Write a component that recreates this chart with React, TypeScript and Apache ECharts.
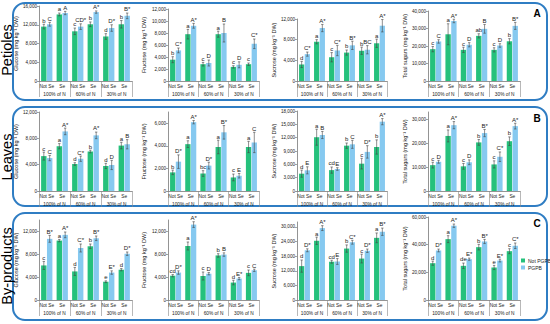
import React, { useEffect, useRef } from 'react';
import * as echarts from 'echarts';

// ---------- categories ----------
const treatments = ['Not Se', 'Se', 'Not Se', 'Se', 'Not Se', 'Se'];
const nLevels = ['100% of N', '60% of N', '30% of N'];
const rowNames = ['Petioles', 'Leaves', 'By-products'];
const rowTags = ['A', 'B', 'C'];
const sugarNames = ['Glucose', 'Fructose', 'Sucrose', 'Total sugars'];
const seriesNames = ['Not PGPB', 'PGPB'];

// ---------- Petioles ----------
const petGluNot = [11600, 14200, 10600, 12100, 9500, 12100];
const petGluPg = [12100, 14500, 11600, 14700, 11300, 13900];
const petGluNotErr = [500, 300, 700, 500, 600, 800];
const petGluPgErr = [400, 350, 600, 250, 700, 600];
const petGluNotLet = ['b', 'a', 'c', 'b', 'd', 'b'];
const petGluPgLet = ['C', 'A', 'CD*', 'A*', 'D*', 'B*'];

const petFruNot = [3550, 7800, 2800, 7800, 2350, 2800];
const petFruPg = [5100, 9200, 3000, 8000, 2700, 6200];
const petFruNotErr = [500, 800, 300, 500, 200, 200];
const petFruPgErr = [400, 400, 500, 1500, 500, 800];
const petFruNotLet = ['b', 'a', 'c', 'a', 'c', 'c'];
const petFruPgLet = ['C*', 'A*', 'D', 'B', 'D', 'C*'];

const petSucNot = [3200, 7600, 4600, 5500, 5850, 7300];
const petSucPg = [5200, 10250, 5900, 6900, 6050, 10700];
const petSucNotErr = [600, 400, 900, 500, 700, 800];
const petSucPgErr = [400, 700, 1000, 800, 800, 1200];
const petSucNotLet = ['d', 'a', 'c', 'b', 'b', 'a'];
const petSucPgLet = ['C*', 'A*', 'C*', 'B*', 'BC', 'A*'];

const petTotNot = [18200, 26700, 17800, 25800, 17800, 22700];
const petTotPg = [22600, 34300, 20700, 29800, 20300, 31500];
const petTotNotErr = [1500, 6000, 1500, 1200, 1200, 1500];
const petTotPgErr = [1000, 1000, 1200, 2500, 1000, 2000];
const petTotNotLet = ['c', 'a', 'c', 'ab', 'c', 'b'];
const petTotPgLet = ['C', 'A*', 'D', 'B', 'D', 'B*'];

// ---------- Leaves ----------
const leaGluNot = [5300, 6800, 4100, 6000, 3800, 6900];
const leaGluPg = [5000, 9050, 4900, 8450, 3950, 7100];
const leaGluNotErr = [600, 400, 200, 200, 400, 500];
const leaGluPgErr = [400, 500, 400, 500, 700, 700];
const leaGluNotLet = ['c', 'a', 'd', 'b', 'd', 'a'];
const leaGluPgLet = ['C', 'A*', 'C*', 'A*', 'D', 'B'];

const leaFruNot = [1650, 4150, 1550, 3900, 1200, 3900];
const leaFruPg = [2600, 6100, 2250, 5200, 1350, 4300];
const leaFruNotErr = [200, 300, 250, 600, 300, 500];
const leaFruPgErr = [600, 150, 300, 600, 200, 900];
const leaFruNotLet = ['b', 'a', 'bc', 'a', 'c', 'a'];
const leaFruPgLet = ['D*', 'A*', 'D*', 'B*', 'E', 'C'];

const leaSucNot = [3900, 12100, 4700, 10200, 6150, 9900];
const leaSucPg = [4650, 12600, 4950, 10500, 8800, 15600];
const leaSucNotErr = [800, 1800, 700, 600, 1200, 1600];
const leaSucPgErr = [800, 800, 300, 900, 1400, 700];
const leaSucNotLet = ['d', 'a', 'cd', 'b', 'c', 'b'];
const leaSucPgLet = ['E', 'B', 'E', 'C', 'D*', 'A*'];

const leaTotNot = [10800, 23000, 10300, 20300, 11100, 20800];
const leaTotPg = [12200, 27500, 12000, 24200, 14300, 27100];
const leaTotNotErr = [1200, 2500, 1200, 1200, 1500, 1800];
const leaTotPgErr = [600, 1500, 1000, 1500, 2000, 1200];
const leaTotNotLet = ['c', 'a', 'c', 'b', 'c', 'b'];
const leaTotPgLet = ['D', 'A*', 'D', 'B*', 'C*', 'A*'];

// ---------- By-products ----------
const bypGluNot = [6050, 10400, 5000, 9400, 3200, 5300];
const bypGluPg = [10700, 11400, 9100, 10800, 4800, 8100];
const bypGluNotErr = [700, 200, 700, 400, 150, 200];
const bypGluPgErr = [600, 500, 700, 400, 300, 300];
const bypGluNotLet = ['c', 'a', 'd', 'b', 'e', 'd'];
const bypGluPgLet = ['B*', 'A*', 'C*', 'B*', 'E*', 'D*'];

const bypFruNot = [4250, 9450, 4200, 7800, 3050, 4750];
const bypFruPg = [4800, 13200, 4600, 7950, 3750, 5200];
const bypFruNotErr = [200, 700, 700, 300, 400, 500];
const bypFruPgErr = [300, 500, 200, 300, 200, 200];
const bypFruNotLet = ['cd', 'a', 'c', 'b', 'd', 'c'];
const bypFruPgLet = ['D*', 'A*', 'D', 'B', 'E*', 'C'];

const bypSucNot = [13900, 24300, 15700, 21100, 17000, 25500];
const bypSucPg = [20400, 29500, 15800, 23700, 20200, 28000];
const bypSucNotErr = [2500, 1500, 600, 1500, 1800, 2000];
const bypSucPgErr = [600, 1000, 1200, 800, 700, 1500];
const bypSucNotLet = ['d', 'a', 'cd', 'b', 'c', 'a'];
const bypSucPgLet = ['D*', 'A*', 'E', 'C*', 'D*', 'B*'];

const bypTotNot = [26600, 44000, 24700, 38200, 23500, 35300];
const bypTotPg = [35800, 53700, 29500, 42300, 28500, 39200];
const bypTotNotErr = [1500, 2500, 2000, 2000, 1500, 1800];
const bypTotPgErr = [1000, 1200, 800, 1500, 1000, 2000];
const bypTotNotLet = ['d', 'a', 'de', 'b', 'e', 'c'];
const bypTotPgLet = ['D*', 'A*', 'E*', 'B*', 'E*', 'C*'];

// ---------- axis scales ----------
const axisMax = [
  [16000, 12000, 12000, 40000],
  [12000, 7000, 18000, 33000],
  [14000, 14000, 32000, 60000],
];
const axisStep = [
  [4000, 2000, 4000, 10000],
  [4000, 2000, 3000, 10000],
  [4000, 4000, 6000, 20000],
];

// ---------- layout ----------
const colLeft = [39, 168, 297, 428];
const colRight = [132, 259, 387, 520];
const rowBottom = [81, 191, 300];
const panelTop = [
  [6, 9, 19, 11],
  [112, 112, 111, 112],
  [220, 220, 222, 217],
];
const nameGaps = [19, 21, 18, 14];

const GREEN = '#25C17C';
const BLUE = '#86C9F0';
const FRAME = '#2F7DC3';
const FONT = 'Liberation Sans, Arial, sans-serif';
const BAR_FRAC = 0.35;
const BAR_GAP = 0.08;

type Panel = {
  not: number[]; pg: number[];
  notErr: number[]; pgErr: number[];
  notLet: string[]; pgLet: string[];
};

const panelData: Panel[][] = [
  [
    { not: petGluNot, pg: petGluPg, notErr: petGluNotErr, pgErr: petGluPgErr, notLet: petGluNotLet, pgLet: petGluPgLet },
    { not: petFruNot, pg: petFruPg, notErr: petFruNotErr, pgErr: petFruPgErr, notLet: petFruNotLet, pgLet: petFruPgLet },
    { not: petSucNot, pg: petSucPg, notErr: petSucNotErr, pgErr: petSucPgErr, notLet: petSucNotLet, pgLet: petSucPgLet },
    { not: petTotNot, pg: petTotPg, notErr: petTotNotErr, pgErr: petTotPgErr, notLet: petTotNotLet, pgLet: petTotPgLet },
  ],
  [
    { not: leaGluNot, pg: leaGluPg, notErr: leaGluNotErr, pgErr: leaGluPgErr, notLet: leaGluNotLet, pgLet: leaGluPgLet },
    { not: leaFruNot, pg: leaFruPg, notErr: leaFruNotErr, pgErr: leaFruPgErr, notLet: leaFruNotLet, pgLet: leaFruPgLet },
    { not: leaSucNot, pg: leaSucPg, notErr: leaSucNotErr, pgErr: leaSucPgErr, notLet: leaSucNotLet, pgLet: leaSucPgLet },
    { not: leaTotNot, pg: leaTotPg, notErr: leaTotNotErr, pgErr: leaTotPgErr, notLet: leaTotNotLet, pgLet: leaTotPgLet },
  ],
  [
    { not: bypGluNot, pg: bypGluPg, notErr: bypGluNotErr, pgErr: bypGluPgErr, notLet: bypGluNotLet, pgLet: bypGluPgLet },
    { not: bypFruNot, pg: bypFruPg, notErr: bypFruNotErr, pgErr: bypFruPgErr, notLet: bypFruNotLet, pgLet: bypFruPgLet },
    { not: bypSucNot, pg: bypSucPg, notErr: bypSucNotErr, pgErr: bypSucPgErr, notLet: bypSucNotLet, pgLet: bypSucPgLet },
    { not: bypTotNot, pg: bypTotPg, notErr: bypTotNotErr, pgErr: bypTotPgErr, notLet: bypTotNotLet, pgLet: bypTotPgLet },
  ],
];

function buildOption() {
  const grid: any[] = [];
  const xAxis: any[] = [];
  const yAxis: any[] = [];
  const series: any[] = [];

  for (let r = 0; r < 3; r++) {
    for (let c = 0; c < 4; c++) {
      const p = r * 4 + c;
      const d = panelData[r][c];
      const max = axisMax[r][c];
      const step = axisStep[r][c];
      const tickVals: number[] = [];
      for (let v = 0; v <= max; v += step) tickVals.push(v);
      const top = panelTop[r][c];
      grid.push({
        left: colLeft[c],
        top,
        width: colRight[c] - colLeft[c],
        height: rowBottom[r] - top,
        containLabel: false,
        outerBoundsMode: 'none',
      });
      xAxis.push({
        type: 'category',
        gridIndex: p,
        data: treatments,
        position: 'bottom',
        axisLine: { show: true, lineStyle: { color: '#666', width: 0.7 } },
        axisTick: { show: false },
        axisLabel: { interval: 0, fontSize: 4.8, margin: 3, color: '#222', fontFamily: FONT },
      });
      xAxis.push({
        type: 'category',
        gridIndex: p,
        data: nLevels,
        position: 'bottom',
        axisLine: { show: false },
        axisTick: { show: true, length: 16, lineStyle: { color: '#888', width: 0.6 } },
        axisLabel: { interval: 0, fontSize: 4.8, margin: 10.5, color: '#222', fontFamily: FONT },
      });
      yAxis.push({
        type: 'value',
        gridIndex: p,
        min: 0,
        max,
        interval: step,
        name: sugarNames[c] + ' (mg kg\u207B\u00B9 DW)',
        nameLocation: 'middle',
        nameGap: nameGaps[c],
        nameTextStyle: { fontSize: 5.5, color: '#222', fontFamily: FONT },
        axisLine: { show: true, lineStyle: { color: '#666', width: 0.7 } },
        axisTick: { show: true, length: 2, customValues: tickVals, lineStyle: { color: '#666', width: 0.6 } },
        axisLabel: {
          fontSize: 4.6,
          margin: 2,
          color: '#222',
          fontFamily: FONT,
          customValues: tickVals,
          formatter: (v: number) => (v % step === 0 ? v.toLocaleString('en-US') : ''),
        },
        splitLine: { show: false },
      });
      series.push({
        type: 'bar',
        name: seriesNames[0],
        xAxisIndex: p * 2,
        yAxisIndex: p,
        data: d.not,
        barWidth: BAR_FRAC * 100 + '%',
        barGap: BAR_GAP * 100 + '%',
        itemStyle: { color: GREEN },
      });
      series.push({
        type: 'bar',
        name: seriesNames[1],
        xAxisIndex: p * 2,
        yAxisIndex: p,
        data: d.pg,
        barWidth: BAR_FRAC * 100 + '%',
        barGap: BAR_GAP * 100 + '%',
        itemStyle: { color: BLUE },
      });
      series.push({
        type: 'custom',
        xAxisIndex: p * 2,
        yAxisIndex: p,
        clip: false,
        z: 10,
        silent: true,
        encode: { x: 0, y: 1 },
        data: treatments.map((_, i) => [i, 0]),
        renderItem: (params: any, api: any) => {
          const i = params.dataIndex;
          const band = api.size([1, 0])[0];
          const barW = band * BAR_FRAC;
          const off = (barW * (1 + BAR_GAP)) / 2;
          const children: any[] = [];
          const sets: [number[], number[], string[], number][] = [
            [d.not, d.notErr, d.notLet, -1],
            [d.pg, d.pgErr, d.pgLet, 1],
          ];
          sets.forEach(([vals, errs, lets, s]) => {
            const base = api.coord([i, vals[i]]);
            const x = base[0] + s * off;
            const yt = api.coord([i, vals[i] + errs[i]])[1];
            const yb = api.coord([i, vals[i] - errs[i]])[1];
            const st = { stroke: '#444', lineWidth: 0.6 };
            children.push({ type: 'line', shape: { x1: x, y1: yt, x2: x, y2: yb }, style: st });
            children.push({ type: 'line', shape: { x1: x - 1.2, y1: yt, x2: x + 1.2, y2: yt }, style: st });
            children.push({ type: 'line', shape: { x1: x - 1.2, y1: yb, x2: x + 1.2, y2: yb }, style: st });
            children.push({
              type: 'text',
              style: {
                text: lets[i],
                x,
                y: yt - 0.6,
                align: 'center',
                verticalAlign: 'bottom',
                fontSize: 6,
                fontFamily: FONT,
                fill: '#1a1a1a',
              },
            });
          });
          return { type: 'group', children };
        },
      });
    }
  }

  const boxes = [
    { y: 3, h: 97 },
    { y: 107, h: 99 },
    { y: 213, h: 107 },
  ];
  const labelY = [50, 157, 266];
  const tagY = [13, 118, 223];
  const graphic: any[] = [];
  boxes.forEach((b) => {
    graphic.push({
      type: 'rect',
      shape: { x: 13, y: b.y, width: 534, height: b.h, r: 12 },
      style: { fill: 'none', stroke: FRAME, lineWidth: 2 },
      silent: true,
    });
  });
  rowNames.forEach((name, r) => {
    graphic.push({
      type: 'text',
      x: 7,
      y: labelY[r],
      rotation: Math.PI / 2,
      style: { text: name, fontSize: 14.5, fontFamily: FONT, fill: '#000', align: 'center', verticalAlign: 'middle' },
      silent: true,
    });
    graphic.push({
      type: 'text',
      x: 537,
      y: tagY[r],
      style: { text: rowTags[r], fontSize: 10, fontWeight: 'bold', fontFamily: FONT, fill: '#000', align: 'center', verticalAlign: 'middle' },
      silent: true,
    });
  });

  return {
    animation: false,
    backgroundColor: '#fff',
    grid,
    xAxis,
    yAxis,
    series,
    graphic,
    legend: {
      data: seriesNames,
      orient: 'vertical',
      left: 521,
      top: 258,
      itemWidth: 4,
      itemHeight: 4,
      itemGap: 2,
      padding: 0,
      icon: 'rect',
      textStyle: { fontSize: 5, fontFamily: FONT, color: '#222', padding: [0, 0, 0, -2] },
      selectedMode: false,
    },
  };
}

export default function App() {
  const ref = useRef<HTMLDivElement>(null);
  useEffect(() => {
    document.body.style.margin = '0';
    const chart = echarts.init(ref.current as HTMLDivElement, null, { renderer: 'svg' });
    chart.setOption(buildOption() as any);
    return () => chart.dispose();
  }, []);
  return <div ref={ref} style={{ position: 'absolute', left: 0, top: 0, width: 550, height: 324 }} />;
}
